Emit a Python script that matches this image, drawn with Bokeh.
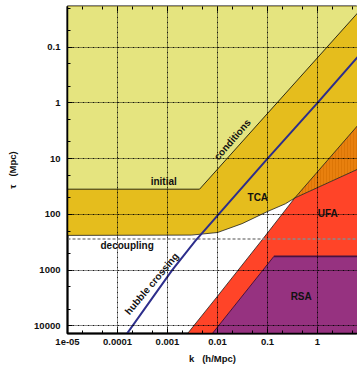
import numpy as np
from bokeh.plotting import figure
from bokeh.models import Range1d, FixedTicker, LogAxis, Label
from bokeh.embed import file_html
from bokeh.resources import INLINE

# ---------------- data ----------------
x_ticks = [1e-5, 1e-4, 1e-3, 1e-2, 1e-1, 1.0]
x_tick_labels = ["1e-05", "0.0001", "0.001", "0.01", "0.1", "1"]
y_ticks = [0.1, 1.0, 10.0, 100.0, 1000.0, 10000.0]
y_tick_labels = ["0.1", "1", "10", "100", "1000", "10000"]

# hubble crossing (k, tau)
hubble_k = [7.0, 1.0, 0.1, 0.0105, 0.0036, 0.00124, 0.00052, 0.000145]
hubble_tau = [0.136, 1.0, 10.0, 100.0, 300.0, 1000.0, 3000.0, 15000.0]

# initial conditions boundary
ini_k = [1e-6, 0.00438, 10.0]
ini_tau = [35.4, 35.4, 0.0155]

# tight-coupling (TCA) boundary
tca_k = [1e-6, 0.003, 0.01, 0.031, 0.1, 0.229, 0.35, 10.0]
tca_tau = [240.0, 236.0, 212.0, 147.0, 89.0, 64.6, 51.0, 12.9]

# ultra-relativistic fluid approximation (UFA) boundary
ufa_k = [0.0022, 0.01, 0.0783, 0.35, 10.0]
ufa_tau = [16000.0, 2942.0, 286.0, 51.0, 1.6]

# radiation streaming approximation (RSA) boundary
rsa_k = [0.0069, 0.134, 10.0]
rsa_tau = [16000.0, 569.0, 569.0]

decoupling_tau = 278.0

# ---------------- figure ----------------
K_LO, K_HI = 1e-5, 10 ** 0.8
T_TOP, T_BOT = 0.0187, 13740.0
KX_LO, KX_HI = 1e-7, 100.0
TX_TOP, TX_BOT = 1e-4, 1e6

p = figure(width=357, height=366, x_axis_type="log", y_axis_type="log",
           x_range=Range1d(K_LO, K_HI), y_range=Range1d(T_BOT, T_TOP),
           output_backend="svg", toolbar_location=None,
           min_border_left=67, min_border_right=0, min_border_top=6,
           min_border_bottom=32, background_fill_color="white")

YELLOW = "#E5E47F"
GOLD = "#E5BD1D"
RED = "#FF4428"
ORANGE = "#E8800E"
PURPLE = "#963280"
BLUE = "#2D2E8C"

ic = tca_k.index(0.35)
iu = ufa_k.index(0.35)

# gold TCA region (above TCA curve)
gx = [KX_LO, KX_LO, KX_HI, KX_HI] + tca_k[::-1]
gy = [tca_tau[0], TX_TOP, TX_TOP, tca_tau[-1]] + tca_tau[::-1]
p.patch(gx, gy, fill_color=GOLD, line_color=None)

# red UFA region (right of UFA diagonal, below TCA)
rx = ufa_k[:iu + 1] + tca_k[ic + 1:] + [KX_HI, ufa_k[0]]
ry = ufa_tau[:iu + 1] + tca_tau[ic + 1:] + [TX_BOT, TX_BOT]
p.patch(rx, ry, fill_color=RED, line_color=None)

# orange overlap (TCA & UFA)
ox = ufa_k[iu:] + tca_k[ic:][::-1]
oy = ufa_tau[iu:] + tca_tau[ic:][::-1]
p.patch(ox, oy, fill_color=ORANGE, line_color=None,
        hatch_pattern="vertical_line", hatch_color="#D46E00",
        hatch_alpha=0.55, hatch_scale=3, hatch_weight=1)

# light yellow initial-condition region
yx = ini_k + [KX_HI, KX_LO]
yy = ini_tau + [TX_TOP, TX_TOP]
p.patch(yx, yy, fill_color=YELLOW, line_color=None)

# purple RSA region
px_ = rsa_k + [KX_HI]
py_ = rsa_tau + [TX_BOT]
p.patch(px_, py_, fill_color=PURPLE, line_color=None)

# boundaries
p.line(ini_k, ini_tau, line_color="black", line_width=0.8)
p.line(tca_k, tca_tau, line_color="#202020", line_width=0.8)
p.line(ufa_k, ufa_tau, line_color="#202020", line_width=0.8)
p.line(rsa_k[:2], rsa_tau[:2], line_color="#4A1240", line_width=1.0)
p.line(rsa_k[1:], rsa_tau[1:], line_color="#4A1240", line_width=1.8)

# decoupling
p.line([KX_LO, KX_HI], [decoupling_tau, decoupling_tau], line_color="#8A8A8A",
       line_width=1.5, line_dash="3 2")

# hubble crossing
p.line(hubble_k, hubble_tau, line_color=BLUE, line_width=2)

# ---------------- axes ----------------
x_minor = [m * d for d in [1e-6] + x_ticks for m in (2, 5)]
y_minor = [m * d for d in [0.01] + y_ticks for m in (2, 5)]
xt = FixedTicker(ticks=x_ticks, minor_ticks=x_minor)
yt = FixedTicker(ticks=y_ticks, minor_ticks=y_minor)

FONT = "Liberation Sans"

def style_axis(ax, t, labs):
    ax.ticker = t
    if labs is not None:
        ax.major_label_overrides = labs
    ax.major_tick_in = 5
    ax.major_tick_out = 0
    ax.minor_tick_in = 3
    ax.minor_tick_out = 0
    ax.major_tick_line_color = "black"
    ax.minor_tick_line_color = "black"
    ax.axis_line_color = "black"
    ax.axis_line_width = 1.5
    ax.major_label_text_font = FONT
    ax.major_label_text_font_style = "bold"
    ax.major_label_text_font_size = "9.5px"
    ax.major_label_text_color = "#111111"
    ax.axis_label_text_font = FONT
    ax.axis_label_text_font_style = "bold"
    ax.axis_label_text_font_size = "9.5px"
    ax.axis_label_text_color = "#111111"

style_axis(p.xaxis[0], xt, dict(zip(x_ticks, x_tick_labels)))
style_axis(p.yaxis[0], yt, dict(zip(y_ticks, y_tick_labels)))

p.xaxis.major_label_standoff = 5
p.xaxis.axis_label = "k\u00a0\u00a0\u00a0(h/Mpc)"
p.xaxis.axis_label_standoff = 5
p.yaxis.major_label_standoff = 7
p.yaxis.axis_label = "\u03c4\u00a0\u00a0\u00a0(Mpc)"
p.yaxis.axis_label_standoff = 13

# mirrored ticks on top (no labels)
top = LogAxis()
style_axis(top, xt, None)
top.major_label_text_font_size = "1px"
top.major_label_text_color = None
top.major_label_standoff = 0
top.axis_line_color = None
p.add_layout(top, "above")

for g, t in ((p.xgrid, xt), (p.ygrid, yt)):
    g.ticker = t
    g.grid_line_color = "black"
    g.grid_line_width = 1
    g.grid_line_dash = "2 1 1 1"
    g.grid_line_alpha = 0.9
    g.level = "guide"

p.outline_line_color = "black"
p.outline_line_width = 2

# ---------------- labels ----------------
def lab(x, y, text, angle=0):
    p.add_layout(Label(x=x, y=y, text=text, angle=angle, angle_units="deg",
                       text_font=FONT, text_font_style="bold",
                       text_font_size="10px", text_color="#111111",
                       text_align="center", text_baseline="middle"))

lab(8.4e-4, 25.9, "initial")
lab(0.0198, 4.54, "conditions", 49)
lab(4.83e-4, 1750, "hubble crossing", 50)
lab(1.56e-4, 366, "decoupling")
lab(0.064, 50, "TCA")
lab(1.61, 95, "UFA")
lab(0.472, 3030, "RSA")

open("out.html", "w").write(file_html(p, INLINE))
